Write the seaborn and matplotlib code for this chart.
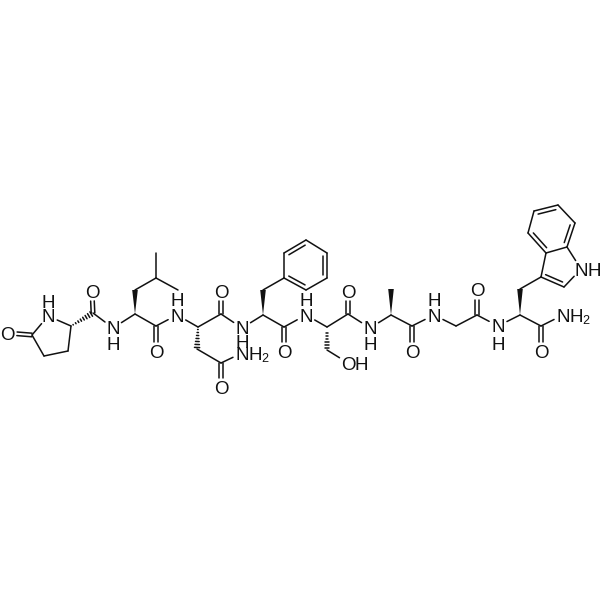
import numpy as np
import pandas as pd
import seaborn as sns
import matplotlib.pyplot as plt

sns.set_theme(style="white")
plt.rcParams['font.family'] = ['Liberation Sans', 'DejaVu Sans']

# atoms, in pixels
atom_ids = ['O1', 'C1', 'N1', 'C2', 'C3', 'C4', 'C5', 'O2', 'N2',
            'L1', 'L2', 'L3', 'L4', 'L5', 'L6', 'O3', 'N3',
            'A1', 'A2', 'A3', 'O4', 'N4', 'A4', 'O5', 'N5',
            'F1', 'F2', 'F3', 'F4', 'F5', 'F6', 'F7', 'F8', 'F9', 'O6', 'N6',
            'S1', 'S2', 'O7', 'S3', 'O8', 'N7',
            'B1', 'B2', 'B3', 'O9', 'N8', 'G1', 'G2', 'O10', 'N9',
            'W1', 'W2', 'W3', 'W4', 'W5', 'N10', 'W6', 'W7', 'W8', 'W9', 'W10',
            'W11', 'O11', 'N11']
atom_x = [7, 32, 48, 71, 68, 44, 93, 92, 113,
          135, 135, 156, 156, 178, 156, 156, 177,
          198, 197, 221, 221, 242, 221, 221, 242,
          263, 263, 284, 284, 306, 327, 327, 306, 284, 284, 306,
          327, 327, 348, 348, 348, 370,
          391, 391, 412, 412, 434, 456, 477, 477, 498,
          520, 520, 541, 546, 564, 581, 567, 528, 534, 558, 575,
          541, 541, 563]
atom_y = [333, 335, 316, 326, 351, 356, 313, 291, 328,
          314, 290, 278, 253, 290, 326, 352, 315,
          327, 349, 363, 388, 353, 314, 291, 328,
          315, 290, 278, 253, 240, 253, 278, 290, 327, 352, 315,
          327, 350, 363, 314, 291, 328,
          315, 289, 326, 352, 315, 326, 315, 290, 326,
          315, 289, 277, 253, 287, 269, 247, 233, 211, 205, 223,
          326, 352, 315]

single_bonds = [('C1', 'N1'), ('N1', 'C2'), ('C2', 'C3'), ('C3', 'C4'), ('C4', 'C1'),
                ('C5', 'N2'), ('N2', 'L1'), ('L2', 'L3'), ('L3', 'L4'), ('L3', 'L5'),
                ('L1', 'L6'), ('L6', 'N3'), ('N3', 'A1'), ('A2', 'A3'), ('A3', 'N4'),
                ('A1', 'A4'), ('A4', 'N5'), ('N5', 'F1'), ('F2', 'F3'),
                ('F4', 'F5'), ('F6', 'F7'), ('F8', 'F3'), ('F3', 'F4'), ('F5', 'F6'), ('F7', 'F8'),
                ('F1', 'F9'), ('F9', 'N6'), ('N6', 'S1'), ('S2', 'O7'),
                ('S1', 'S3'), ('S3', 'N7'), ('N7', 'B1'), ('B1', 'B3'), ('B3', 'N8'),
                ('N8', 'G1'), ('G1', 'G2'), ('G2', 'N9'), ('N9', 'W1'), ('W2', 'W3'),
                ('W3', 'W4'), ('W3', 'W5'), ('W5', 'N10'), ('N10', 'W6'), ('W6', 'W4'),
                ('W4', 'W7'), ('W7', 'W8'), ('W8', 'W9'), ('W9', 'W10'), ('W10', 'W6'),
                ('W1', 'W11'), ('W11', 'N11')]
carbonyl_bonds = [('C1', 'O1'), ('C5', 'O2'), ('L6', 'O3'), ('A3', 'O4'), ('A4', 'O5'),
                  ('F9', 'O6'), ('S3', 'O8'), ('B3', 'O9'), ('G2', 'O10'), ('W11', 'O11')]
ring_double_bonds = [('F3', 'F8', 'F'), ('F4', 'F5', 'F'), ('F6', 'F7', 'F'),
                     ('W3', 'W5', 'P'), ('W4', 'W7', 'I'), ('W8', 'W9', 'I'), ('W10', 'W6', 'I')]
ring_members = {'F': ['F3', 'F4', 'F5', 'F6', 'F7', 'F8'],
                'P': ['W3', 'W4', 'W5', 'N10', 'W6'],
                'I': ['W4', 'W7', 'W8', 'W9', 'W10', 'W6']}
wedge_bonds = [('L1', 'L2'), ('F1', 'F2'), ('B1', 'B2'), ('W1', 'W2')]
hash_bonds = [('C2', 'C5'), ('A1', 'A2'), ('S1', 'S2')]

# the labels sit on their atoms, the H next to them
hetero_atoms = {'O1': 'O', 'N1': 'N', 'O2': 'O', 'N2': 'N', 'O3': 'O', 'N3': 'N', 'O4': 'O',
                'N4': 'N', 'O5': 'O', 'N5': 'N', 'O6': 'O', 'N6': 'N', 'O7': 'O', 'O8': 'O',
                'N7': 'N', 'O9': 'O', 'N8': 'N', 'O10': 'O', 'N9': 'N', 'N10': 'N', 'O11': 'O',
                'N11': 'N'}
hydrogen_labels = [('H', 48, 301), ('H', 113, 343), ('H', 177, 300), ('H', 242, 341),
                   ('H', 306, 300), ('H', 370, 343), ('H', 434, 300), ('H', 498, 343),
                   ('H', 255, 353), ('2', 265, 357), ('H', 361, 363), ('H', 594, 269),
                   ('H', 576, 315), ('2', 586, 319)]

pos = {a: np.array([x, y], float) for a, x, y in zip(atom_ids, atom_x, atom_y)}
ink = '#111111'
gap = 10.0
line_w = 1.1
label_size = 13.5


def trimmed(a, b):
    p, q = pos[a].copy(), pos[b].copy()
    u = (q - p) / np.linalg.norm(q - p)
    if a in hetero_atoms:
        p = p + u * gap
    if b in hetero_atoms:
        q = q - u * gap
    return p, q


segs = []


def add_seg(p, q):
    n = len(segs)
    segs.append(pd.DataFrame({'x': [p[0], q[0]], 'y': [p[1], q[1]], 'seg': n}))


for a, b in single_bonds:
    add_seg(*trimmed(a, b))

for a, b in carbonyl_bonds:
    p, q = trimmed(a, b)
    u = (q - p) / np.linalg.norm(q - p)
    nrm = np.array([-u[1], u[0]])
    add_seg(p + nrm * 1.8, q + nrm * 1.8)
    add_seg(p - nrm * 1.8, q - nrm * 1.8)

for a, b, ring in ring_double_bonds:
    p, q = pos[a], pos[b]
    mid = np.mean([pos[m] for m in ring_members[ring]], axis=0)
    u = (q - p) / np.linalg.norm(q - p)
    nrm = np.array([-u[1], u[0]])
    if np.dot(mid - p, nrm) < 0:
        nrm = -nrm
    L = np.linalg.norm(q - p)
    add_seg(p + u * L * 0.13 + nrm * 4, q - u * L * 0.13 + nrm * 4)

for a, b in hash_bonds:
    p, q = pos[a], pos[b]
    u = (q - p) / np.linalg.norm(q - p)
    nrm = np.array([-u[1], u[0]])
    L = np.linalg.norm(q - p)
    for d in np.arange(2.5, L, 3.0):
        w = 2.8 * d / L
        c = p + u * d
        add_seg(c - nrm * w, c + nrm * w)

fig = plt.figure(figsize=(6, 6), dpi=100, facecolor='white')
ax = fig.add_axes([0, 0, 1, 1])

sns.lineplot(data=pd.concat(segs, ignore_index=True), x='x', y='y', units='seg', estimator=None,
             sort=False, color=ink, linewidth=line_w, legend=False, ax=ax)

for a, b in wedge_bonds:
    p, q = pos[a], pos[b]
    u = (q - p) / np.linalg.norm(q - p)
    nrm = np.array([-u[1], u[0]])
    tri = np.array([p, q + nrm * 2.8, q - nrm * 2.8])
    ax.fill(tri[:, 0], tri[:, 1], color=ink, lw=0)

for a, t in hetero_atoms.items():
    ax.text(pos[a][0], pos[a][1], t, fontsize=label_size, color=ink, ha='center', va='center_baseline')
for t, x, y in hydrogen_labels:
    ax.text(x, y, t, fontsize=9 if t == '2' else label_size, color=ink, ha='center', va='center_baseline')

ax.set_xlim(0, 600)
ax.set_ylim(600, 0)
ax.axis('off')

fig.savefig('out.png', dpi=100, facecolor='white')
